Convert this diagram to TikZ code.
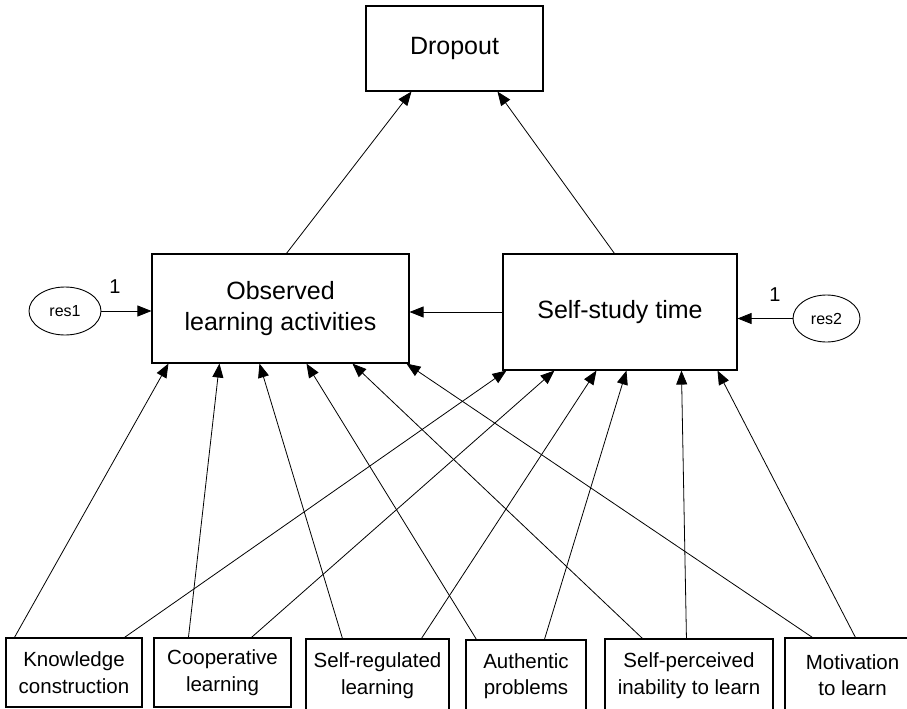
\documentclass[tikz,border=0pt]{standalone}
\usepackage{fontspec}
\setmainfont{Liberation Sans}
\usetikzlibrary{arrows.meta,shapes.geometric,calc}

\tikzset{
  varbox/.style={draw, line width=1.1pt, rectangle, align=center, inner sep=0pt},
  bigbox/.style={varbox, font=\fontsize{25}{31}\selectfont},
  smallbox/.style={varbox, font=\fontsize{20.5}{26.5}\selectfont},
  resid/.style={draw, line width=0.9pt, ellipse, inner sep=0pt, font=\fontsize{16}{19}\selectfont},
  path/.style={line width=0.8pt, -{Triangle[length=14pt,width=11pt]}},
  weight/.style={font=\fontsize{20}{24}\selectfont}
}

\begin{document}
\begin{tikzpicture}[x=1pt,y=-1pt]
  \useasboundingbox (0,0) rectangle (907,709);
  \clip (0,0) rectangle (907,709);

  % outcome and mediators
  \node[bigbox, minimum width=177pt, minimum height=85pt] (drop) at (454.5,48.5) {Dropout};
  \node[bigbox, minimum width=257pt, minimum height=109pt] (ola) at (280.5,308.5) {Observed\\learning activities};
  \node[bigbox, minimum width=234pt, minimum height=116pt] (sst) at (620,312) {Self-study time};

  % residuals
  \node[resid, minimum width=72pt, minimum height=48pt] (res1) at (65,311) {res1};
  \node[resid, minimum width=67pt, minimum height=47pt] (res2) at (826.5,318.5) {res2};
  \node[weight] (w1) at (115,287) {1};
  \node[weight] (w2) at (775,295) {1};

  % predictors
  \node[smallbox, minimum width=136pt, minimum height=69pt] (kc) at (74,672.5) {Knowledge\\construction};
  \node[smallbox, minimum width=137pt, minimum height=69pt] (cl) at (222.5,672.5) {Cooperative\\learning};
  \node[smallbox, minimum width=143pt, minimum height=73pt] (srl) at (377.5,675.5) {Self-regulated\\learning};
  \node[smallbox, minimum width=120pt, minimum height=72pt] (ap) at (526,676) {Authentic\\problems};
  \node[smallbox, minimum width=168pt, minimum height=73pt] (spi) at (689,675.5) {Self-perceived\\inability to learn};
  \node[smallbox, minimum width=135pt, minimum height=74pt] (mot) at (852.5,675) {Motivation\\to learn};

  % paths to dropout
  \draw[path] ([xshift=135pt]ola.north west) -- ([xshift=46pt]drop.south west);
  \draw[path] ([xshift=112pt]sst.north west) -- ([xshift=132pt]drop.south west);

  % self-study time -> observed activities
  \draw[path] (sst.west) -- (sst.west -| ola.east);

  % residual paths
  \draw[path] (res1.east) -- (res1.east -| ola.west);
  \draw[path] (res2.west) -- (res2.west -| sst.east);

  % predictors -> observed learning activities
  \draw[path] ([xshift=9pt]kc.north west)  -- ([xshift=17pt]ola.south west);
  \draw[path] ([xshift=35pt]cl.north west) -- ([xshift=68pt]ola.south west);
  \draw[path] ([xshift=37pt]srl.north west) -- ([xshift=108pt]ola.south west);
  \draw[path] ([xshift=11pt]ap.north west) -- ([xshift=155pt]ola.south west);
  \draw[path] ([xshift=38pt]spi.north west) -- ([xshift=201pt]ola.south west);
  \draw[path] ([xshift=28pt]mot.north west) -- ([xshift=255pt]ola.south west);

  % predictors -> self-study time
  \draw[path] ([xshift=119pt]kc.north west) -- ([xshift=4pt]sst.south west);
  \draw[path] ([xshift=98pt]cl.north west)  -- ([xshift=52pt]sst.south west);
  \draw[path] ([xshift=116pt]srl.north west) -- ([xshift=94pt]sst.south west);
  \draw[path] ([xshift=79pt]ap.north west)  -- ([xshift=124pt]sst.south west);
  \draw[path] ([xshift=82pt]spi.north west) -- ([xshift=179pt]sst.south west);
  \draw[path] ([xshift=71pt]mot.north west) -- ([xshift=215pt]sst.south west);
\end{tikzpicture}
\end{document}
